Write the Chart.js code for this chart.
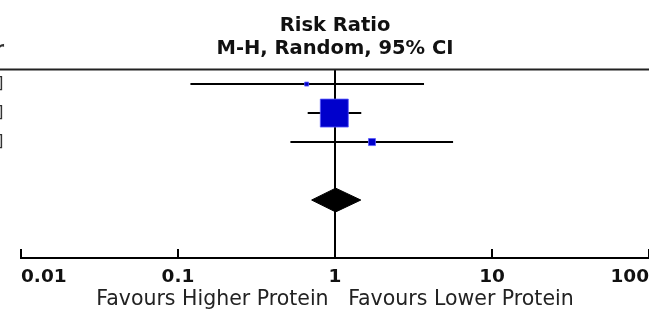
<!DOCTYPE html>
<html>
<head>
<meta charset="utf-8">
<script src="https://cdn.jsdelivr.net/npm/chart.js@4"></script>
<style>
  html, body { margin: 0; padding: 0; background: #fff; }
</style>
</head>
<body>
<canvas id="forest" width="649" height="311"></canvas>
<script>
// study rows (top to bottom)
const rowPos = [1, 2, 3];
const riskRatio = [0.66, 0.99, 1.72];
const ciLow = [0.12, 0.67, 0.52];
const ciHigh = [3.69, 1.47, 5.65];
const weights = [1.9, 92.3, 5.8];

// pooled estimate: low, estimate, high
const pooledPos = 5;
const pooled = [0.71, 1.01, 1.46];

const tickValues = [0.01, 0.1, 1, 10, 100];
const tickLabels = ['0.01', '0.1', '1', '10', '100'];
const headerLines = ['Risk Ratio', 'M-H, Random, 95% CI'];
const favourText = 'Favours Higher Protein   Favours Lower Protein';
const leftHeader = 'Year';

Chart.defaults.font.family = "'DejaVu Sans', sans-serif";

const fmt = v => v.toFixed(2);

// CI whiskers, one dataset per row
const ciSets = rowPos.map((y, i) => ({
  data: [{x: ciLow[i], y: y}, {x: ciHigh[i], y: y}],
  showLine: true,
  borderColor: '#000',
  borderWidth: 2,
  pointRadius: 0,
  order: 3
}));

const squareSet = {
  data: rowPos.map((y, i) => ({x: riskRatio[i], y: y})),
  pointStyle: 'rect',
  pointRadius: ctx => Math.sqrt(weights[ctx.dataIndex]) * 2.06,
  backgroundColor: '#0000cc',
  borderColor: 'rgba(90,90,255,0.8)',
  borderWidth: 1,
  order: 1
};

const dh = 0.41;
const diamondSet = {
  data: [
    {x: pooled[0], y: pooledPos},
    {x: pooled[1], y: pooledPos - dh},
    {x: pooled[2], y: pooledPos},
    {x: pooled[1], y: pooledPos + dh},
    {x: pooled[0], y: pooledPos}
  ],
  showLine: true,
  fill: 'shape',
  backgroundColor: '#000',
  borderColor: '#000',
  borderWidth: 1,
  tension: 0,
  pointRadius: 0,
  order: 2
};

const forestLines = {
  id: 'forestLines',
  beforeDatasetsDraw(chart) {
    const {ctx, chartArea, scales} = chart;
    const x1 = scales.x.getPixelForValue(1);
    ctx.save();
    ctx.strokeStyle = '#000';
    ctx.lineWidth = 2;
    // line of no effect
    ctx.beginPath();
    ctx.moveTo(x1, chartArea.top);
    ctx.lineTo(x1, chartArea.bottom);
    ctx.stroke();
    // header rule
    ctx.strokeStyle = '#222';
    ctx.beginPath();
    ctx.moveTo(0, chartArea.top);
    ctx.lineTo(chart.width, chartArea.top);
    ctx.stroke();
    // ticks point up from the axis
    ctx.strokeStyle = '#000';
    tickValues.forEach(v => {
      const x = scales.x.getPixelForValue(v);
      ctx.beginPath();
      ctx.moveTo(x, chartArea.bottom);
      ctx.lineTo(x, chartArea.bottom - 9);
      ctx.stroke();
    });
    // cut-off neighbouring column on the left
    ctx.fillStyle = '#333';
    ctx.textAlign = 'right';
    ctx.textBaseline = 'alphabetic';
    ctx.font = "bold 19.5px 'DejaVu Sans'";
    ctx.fillText(leftHeader, 4, 55);
    ctx.font = "16px 'DejaVu Sans'";
    ctx.textBaseline = 'middle';
    rowPos.forEach((y, i) => {
      const txt = fmt(riskRatio[i]) + ' [' + fmt(ciLow[i]) + ', ' + fmt(ciHigh[i]) + ']';
      ctx.fillText(txt, 3.5, scales.y.getPixelForValue(y));
    });
    ctx.restore();
  }
};

new Chart(document.getElementById('forest'), {
  type: 'scatter',
  data: { datasets: [squareSet, diamondSet, ...ciSets] },
  options: {
    responsive: false,
    animation: false,
    events: [],
    devicePixelRatio: 1,
    layout: { padding: { left: 21, right: 0, top: 0, bottom: 0 }, autoPadding: false },
    plugins: {
      legend: { display: false },
      tooltip: { enabled: false },
      title: {
        display: true,
        text: headerLines,
        color: '#111',
        font: { size: 19.5, weight: 'bold', lineHeight: 1.195 },
        padding: { top: 14, bottom: 9 }
      }
    },
    scales: {
      x: {
        type: 'logarithmic',
        min: 0.01,
        max: 100,
        afterBuildTicks: s => { s.ticks = tickValues.map(v => ({ value: v })); },
        afterFit: s => { s.height = 53; s.paddingLeft = 0; s.paddingRight = 0; },
        ticks: {
          align: 'inner',
          autoSkip: false,
          maxRotation: 0,
          padding: 8,
          color: '#111',
          font: { size: 18.5, weight: 'bold' },
          callback: (v, i) => tickLabels[i]
        },
        grid: { display: false, drawTicks: false },
        border: { display: true, color: '#000', width: 2 },
        title: {
          display: true,
          text: favourText,
          color: '#222',
          font: { size: 20.5, lineHeight: 1 },
          padding: { top: 1, bottom: 1 }
        }
      },
      y: {
        type: 'linear',
        min: 0.5,
        max: 7,
        reverse: true,
        display: false
      }
    }
  },
  plugins: [forestLines]
});
</script>
</body>
</html>
